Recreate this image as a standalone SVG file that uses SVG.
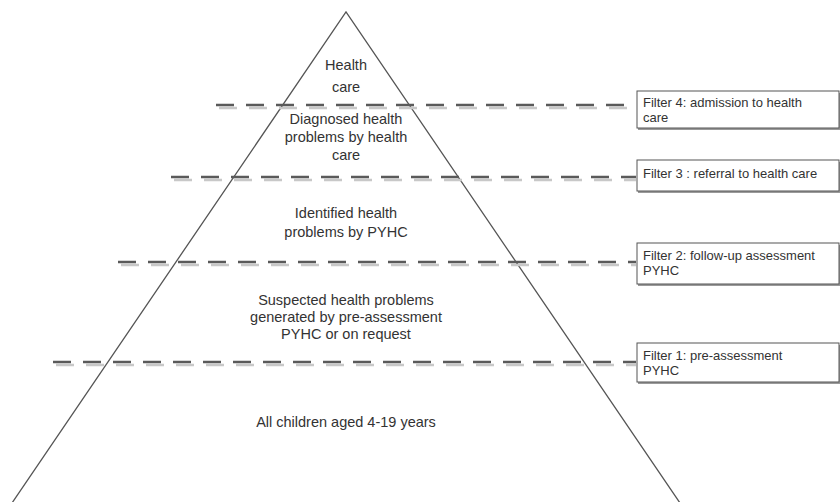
<svg xmlns="http://www.w3.org/2000/svg" width="840" height="502" viewBox="0 0 840 502">
<defs>
<style>
.tri{fill:none;stroke:#555;stroke-width:1.3}
.dash{stroke:#5a5a5a;stroke-width:2.5;stroke-dasharray:18 12;fill:none}
.shadow{stroke:#c8c8c8;stroke-width:2.5;stroke-dasharray:18 12;fill:none}
.box{fill:#fff;stroke:#555;stroke-width:1}
.boxsh{fill:none;stroke:#9a9a9a;stroke-width:2}
.lbl{font-family:"Liberation Sans",Arial,sans-serif;font-size:14.5px;fill:#333;text-anchor:middle}
.flt{font-family:"Liberation Sans",Arial,sans-serif;font-size:13px;fill:#333}
</style>
</defs>
<rect width="840" height="502" fill="#fff"/>
<g id="pyramid">
<polyline class="tri" points="12,503 346,12 680,503"/>
</g>
<g id="connectors">
<line class="shadow" x1="219" y1="108" x2="636" y2="108"/>
<line class="dash" x1="216" y1="105" x2="636" y2="105"/>
<line class="shadow" x1="174" y1="180" x2="636" y2="180"/>
<line class="dash" x1="171" y1="177" x2="636" y2="177"/>
<line class="shadow" x1="121" y1="265" x2="636" y2="265"/>
<line class="dash" x1="118" y1="262" x2="636" y2="262"/>
<line class="shadow" x1="56" y1="365" x2="636" y2="365"/>
<line class="dash" x1="53" y1="362" x2="636" y2="362"/>
</g>
<g id="level-health-care">
<text class="lbl" x="346" y="70">Health</text>
<text class="lbl" x="346" y="92">care</text>
</g>
<g id="level-diagnosed">
<text class="lbl" x="346" y="124">Diagnosed health</text>
<text class="lbl" x="346" y="142">problems by health</text>
<text class="lbl" x="346" y="160">care</text>
</g>
<g id="level-identified">
<text class="lbl" x="346" y="218">Identified health</text>
<text class="lbl" x="346" y="237">problems by PYHC</text>
</g>
<g id="level-suspected">
<text class="lbl" x="346" y="305">Suspected health problems</text>
<text class="lbl" x="346" y="322">generated by pre-assessment</text>
<text class="lbl" x="346" y="339">PYHC or on request</text>
</g>
<g id="level-all">
<text class="lbl" x="346" y="427">All children aged 4-19 years</text>
</g>
<g id="filter4">
<polyline class="boxsh" points="638,129 839,129 839,93"/>
<rect class="box" x="637" y="91" width="202" height="37"/>
<text class="flt" x="643" y="107">Filter 4: admission to health</text>
<text class="flt" x="643" y="122">care</text>
</g>
<g id="filter3">
<polyline class="boxsh" points="638,192 839,192 839,162"/>
<rect class="box" x="637" y="160" width="202" height="31"/>
<text class="flt" x="643" y="178">Filter 3 : referral to health care</text>
</g>
<g id="filter2">
<polyline class="boxsh" points="638,285 839,285 839,245"/>
<rect class="box" x="637" y="243" width="202" height="41"/>
<text class="flt" x="643" y="260">Filter 2: follow-up assessment</text>
<text class="flt" x="643" y="275">PYHC</text>
</g>
<g id="filter1">
<polyline class="boxsh" points="638,383 839,383 839,345"/>
<rect class="box" x="637" y="343" width="202" height="39"/>
<text class="flt" x="643" y="360">Filter 1: pre-assessment</text>
<text class="flt" x="643" y="375">PYHC</text>
</g>
</svg>
